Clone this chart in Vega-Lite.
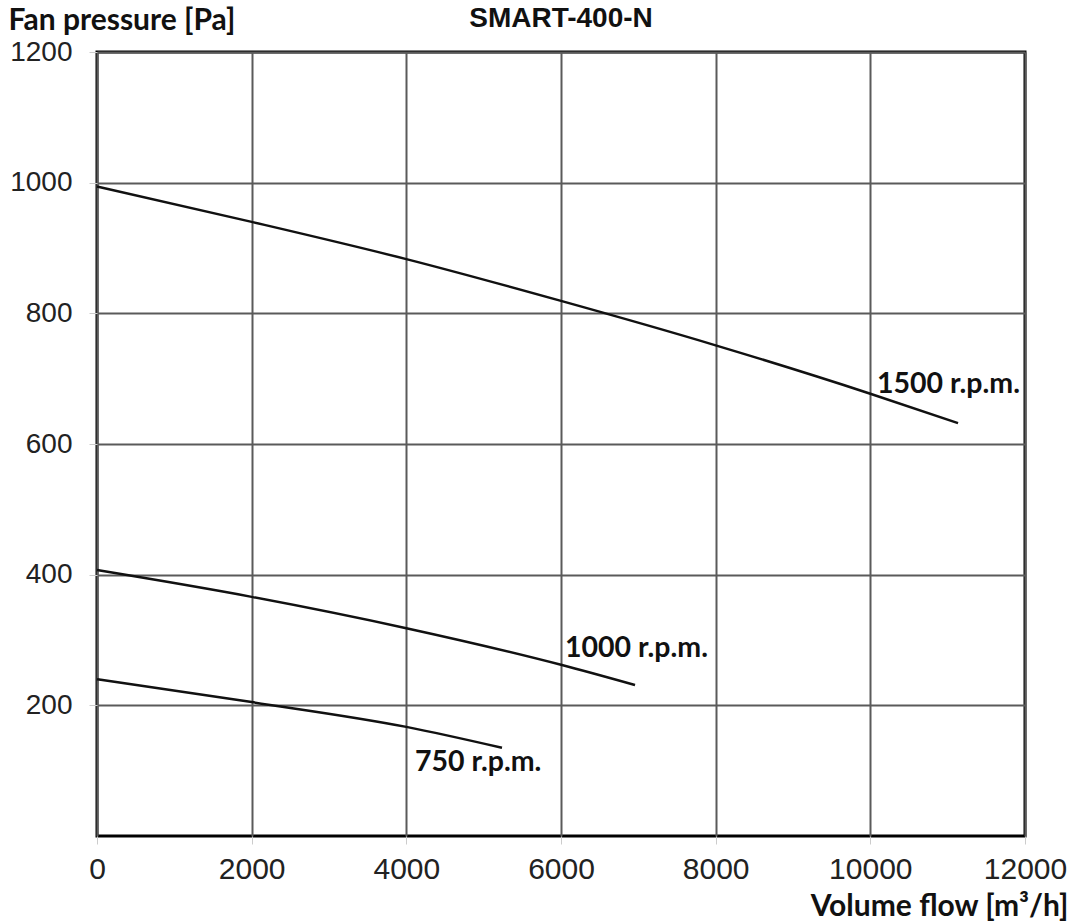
{
  "$schema": "https://vega.github.io/schema/vega-lite/v6.json",
  "autosize": {"type": "none"},
  "width": 928,
  "height": 784,
  "padding": {"left": 97, "top": 52, "right": 48, "bottom": 86},
  "background": "white",
  "config": {
    "view": {"stroke": "black", "strokeWidth": 3},
    "title": {"font": "Liberation Sans, Arial, sans-serif", "fontWeight": 700, "fontSize": 28, "color": "#111111"},
    "axis": {
      "domain": false,
      "gridColor": "#5a5a5a",
      "gridWidth": 2,
      "gridOpacity": 1,
      "tickColor": "#cccccc",
      "tickSize": 8,
      "labelFont": "Liberation Sans",
      "labelFontSize": 28,
      "labelColor": "#222222",
      "titleFont": "Lato",
      "titleFontWeight": "bold",
      "titleFontSize": 30,
      "titleColor": "#111111"
    }
  },
  "title": {
    "text": "SMART-400-N",
    "anchor": "middle",
    "frame": "group",
    "offset": -28
  },
  "datasets": {
    "curves": [
      {"series": "1500", "flow": 0, "pressure": 994},
      {"series": "1500", "flow": 2000, "pressure": 940},
      {"series": "1500", "flow": 4000, "pressure": 883},
      {"series": "1500", "flow": 6000, "pressure": 819},
      {"series": "1500", "flow": 8000, "pressure": 751},
      {"series": "1500", "flow": 10000, "pressure": 677},
      {"series": "1500", "flow": 11134, "pressure": 632},
      {"series": "1000", "flow": 0, "pressure": 407},
      {"series": "1000", "flow": 2000, "pressure": 366},
      {"series": "1000", "flow": 4000, "pressure": 318},
      {"series": "1000", "flow": 6000, "pressure": 262},
      {"series": "1000", "flow": 6957, "pressure": 231},
      {"series": "750", "flow": 0, "pressure": 240},
      {"series": "750", "flow": 2000, "pressure": 205},
      {"series": "750", "flow": 4000, "pressure": 167},
      {"series": "750", "flow": 5237, "pressure": 135}
    ],
    "labels": [
      {"label": "1500 r.p.m.", "flow": 10086, "pressure": 692},
      {"label": "1000 r.p.m.", "flow": 6052, "pressure": 288},
      {"label": "750 r.p.m.", "flow": 4112, "pressure": 113}
    ]
  },
  "layer": [
    {
      "data": {"name": "curves"},
      "mark": {"type": "line", "color": "#111111", "strokeWidth": 2.5, "interpolate": "monotone"},
      "encoding": {
        "x": {
          "field": "flow", "type": "quantitative",
          "scale": {"domain": [0, 12000], "nice": false},
          "axis": {
            "values": [0, 2000, 4000, 6000, 8000, 10000, 12000],
            "format": "d",
            "labelFlush": false,
            "labelFontSize": 30,
            "labelPadding": 10,
            "title": "Volume flow  [m³/h]",
            "titleAnchor": "end",
            "titleAlign": "right",
            "titleX": 971,
            "titleY": 70,
            "titleBaseline": "middle"
          }
        },
        "y": {
          "field": "pressure", "type": "quantitative",
          "scale": {"domain": [0, 1200], "nice": false},
          "axis": {
            "values": [200, 400, 600, 800, 1000, 1200],
            "gridValues": [0, 200, 400, 600, 800, 1000, 1200],
            "format": "d",
            "labelFlush": false,
            "labelPadding": 17,
            "title": "Fan pressure [Pa]",
            "titleAngle": 0,
            "titleAlign": "left",
            "titleBaseline": "middle",
            "titleX": -89,
            "titleY": -32
          }
        },
        "detail": {"field": "series", "type": "nominal"}
      }
    },
    {
      "data": {"name": "labels"},
      "mark": {"type": "text", "font": "Lato", "fontWeight": "bold", "fontSize": 28.5, "align": "left", "baseline": "middle", "color": "#111111"},
      "encoding": {
        "x": {"field": "flow", "type": "quantitative"},
        "y": {"field": "pressure", "type": "quantitative"},
        "text": {"field": "label", "type": "nominal"}
      }
    }
  ]
}
